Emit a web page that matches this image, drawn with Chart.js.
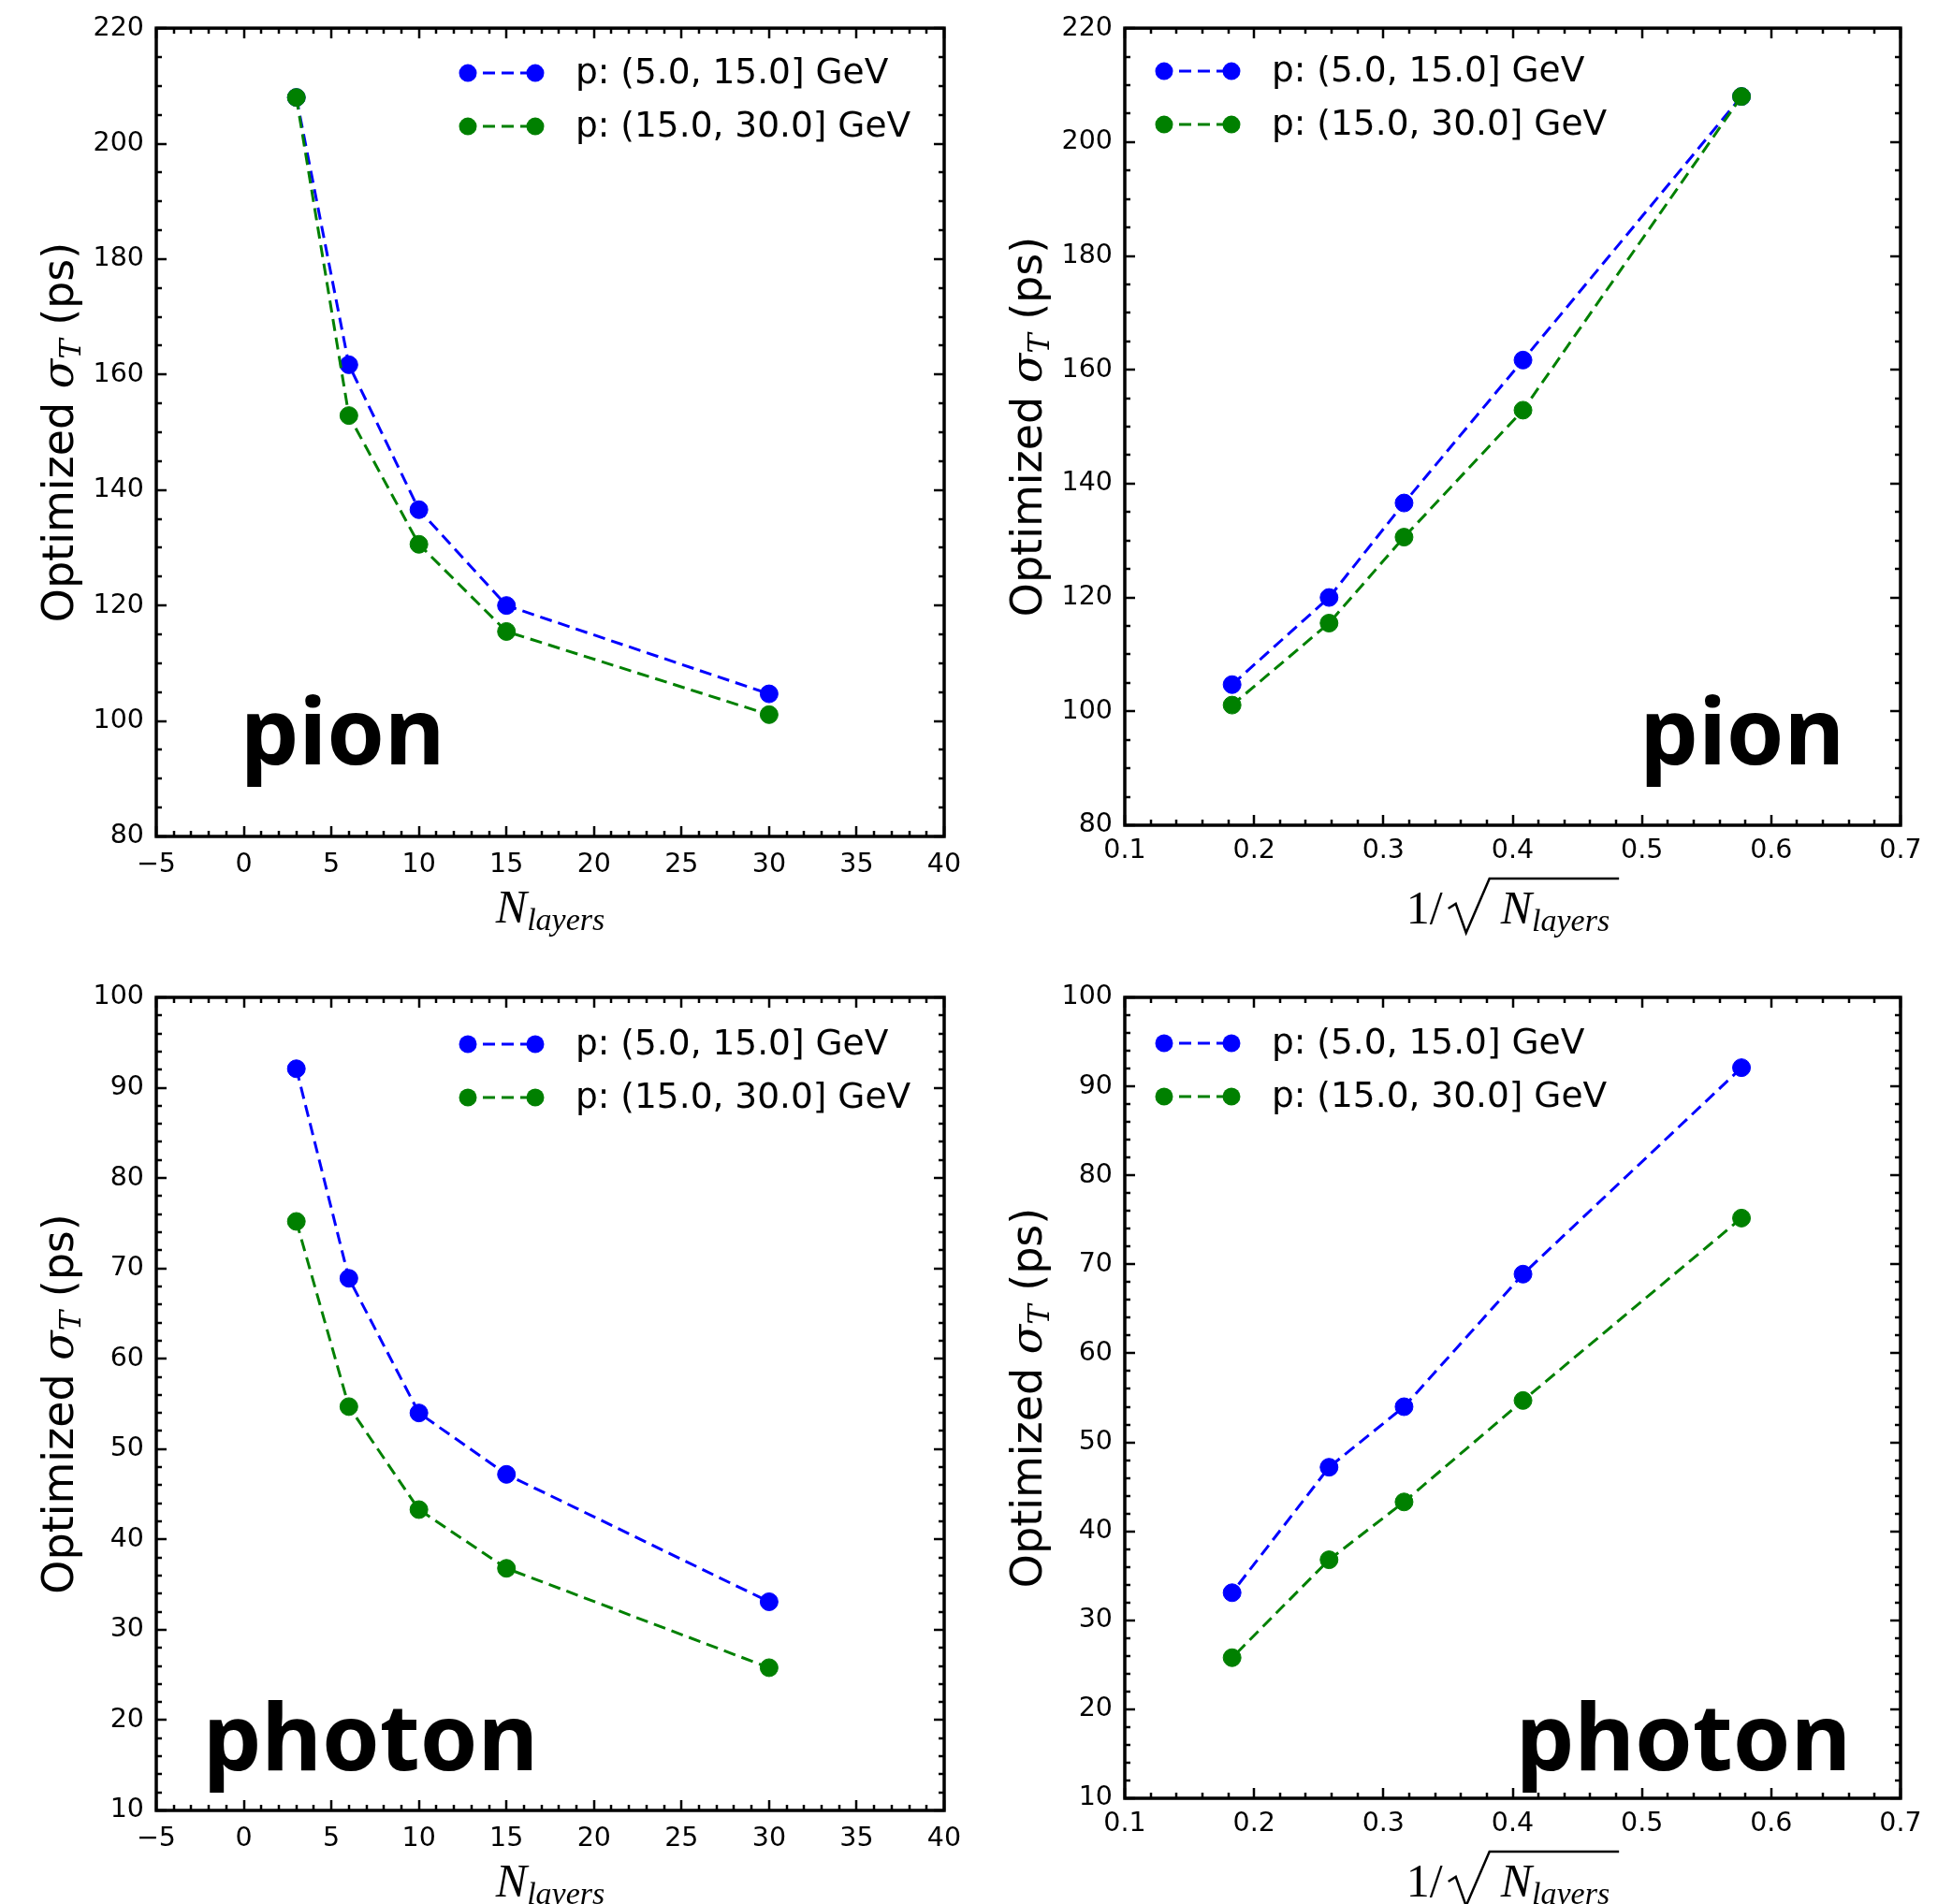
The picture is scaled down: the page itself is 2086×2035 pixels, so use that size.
<!DOCTYPE html>
<html>
<head>
<meta charset="utf-8">
<script src="https://cdn.jsdelivr.net/npm/chart.js@4.4.1/dist/chart.umd.min.js"></script>
<style>
  html, body { margin: 0; padding: 0; background: #fff; }
  #page { position: relative; width: 2086px; height: 2035px; }
  canvas { position: absolute; }
</style>
</head>
<body>
<div id="page">
  <canvas id="c1" width="1043" height="1017" style="left:0;top:0"></canvas>
  <canvas id="c2" width="1043" height="1017" style="left:1043px;top:0"></canvas>
  <canvas id="c3" width="1043" height="1018" style="left:0;top:1017px"></canvas>
  <canvas id="c4" width="1043" height="1018" style="left:1043px;top:1017px"></canvas>
</div>
<script>
// data
const nLayers   = [3, 6, 10, 15, 30];
const invSqrtN  = [0.577, 0.408, 0.316, 0.258, 0.183];
const pionLow    = [208.0, 161.7, 136.6, 120.0, 104.7];
const pionHigh   = [208.0, 152.9, 130.6, 115.5, 101.1];
const photonLow  = [92.1, 68.9, 54.0, 47.2, 33.1];
const photonHigh = [75.2, 54.7, 43.3, 36.8, 25.8];
const seriesNames  = ['p: (5.0, 15.0] GeV', 'p: (15.0, 30.0] GeV'];
const seriesColors = ['#0000ff', '#008000'];

const SANS = '"DejaVu Sans"';
const SERIF = '"Liberation Serif"';

function minusFmt(v) { return v < 0 ? '\u2212' + Math.abs(v) : String(v); }
function oneDec(v) { return v.toFixed(1); }

const panels = [
  { id: 'c1', xs: nLayers, low: pionLow, high: pionHigh,
    x: { min: -5, max: 40, step: 5, minor: 1, fmt: minusFmt },
    y: { min: 80, max: 220, step: 20, minor: 5 },
    box: { l: 167, t: 26, r: 34, b: 123 }, xPad: 13, sqrtTitle: false, legendX: 333, legendY: 48,
    tag: { text: 'pion', x: 257, y: 817, align: 'left' } },
  { id: 'c2', xs: invSqrtN, low: pionLow, high: pionHigh,
    x: { min: 0.1, max: 0.7, step: 0.1, minor: 0.02, fmt: oneDec },
    y: { min: 80, max: 220, step: 20, minor: 5 },
    box: { l: 159, t: 25, r: 55, b: 135 }, xPad: 10, sqrtTitle: true, legendX: 42, legendY: 46,
    tag: { text: 'pion', x: 928, y: 817, align: 'right' } },
  { id: 'c3', xs: nLayers, low: photonLow, high: photonHigh,
    x: { min: -5, max: 40, step: 5, minor: 1, fmt: minusFmt },
    y: { min: 10, max: 100, step: 10, minor: 2 },
    box: { l: 167, t: 49, r: 34, b: 100 }, xPad: 13, sqrtTitle: false, legendX: 333, legendY: 50,
    tag: { text: 'photon', x: 217, y: 875, align: 'left' } },
  { id: 'c4', xs: invSqrtN, low: photonLow, high: photonHigh,
    x: { min: 0.1, max: 0.7, step: 0.1, minor: 0.02, fmt: oneDec },
    y: { min: 10, max: 100, step: 10, minor: 2 },
    box: { l: 159, t: 49, r: 55, b: 113 }, xPad: 10, sqrtTitle: true, legendX: 42, legendY: 49,
    tag: { text: 'photon', x: 935, y: 875, align: 'right' } }
];

// draws a row of text pieces, each {t, f, dy}, starting at x along baseline y
function drawPieces(ctx, pieces, x, y) {
  pieces.forEach(p => {
    ctx.font = p.f;
    ctx.fillText(p.t, x, y + (p.dy || 0));
    x += ctx.measureText(p.t).width;
  });
  return x;
}
function piecesWidth(ctx, pieces) {
  let w = 0;
  pieces.forEach(p => { ctx.font = p.f; w += ctx.measureText(p.t).width; });
  return w;
}

const decor = {
  id: 'decor',
  afterDraw(chart, args, o) {
    const ctx = chart.ctx, a = chart.chartArea;
    const xs = chart.scales.x, ys = chart.scales.y;
    ctx.save();
    ctx.strokeStyle = '#000';
    ctx.fillStyle = '#000';

    // inward ticks on all four sides
    ctx.lineWidth = 2.5;
    const eachTick = (cfg, fn) => {
      const n = Math.round((cfg.max - cfg.min) / cfg.minor);
      const per = Math.round(cfg.step / cfg.minor);
      for (let i = 0; i <= n; i++) fn(cfg.min + i * cfg.minor, i % per === 0);
    };
    ctx.beginPath();
    eachTick(o.x, (v, major) => {
      const px = Math.round(xs.getPixelForValue(v)), len = major ? 11 : 6;
      ctx.moveTo(px, a.bottom); ctx.lineTo(px, a.bottom - len);
      ctx.moveTo(px, a.top); ctx.lineTo(px, a.top + len);
    });
    eachTick(o.y, (v, major) => {
      const py = Math.round(ys.getPixelForValue(v)), len = major ? 11 : 6;
      ctx.moveTo(a.left, py); ctx.lineTo(a.left + len, py);
      ctx.moveTo(a.right, py); ctx.lineTo(a.right - len, py);
    });
    ctx.stroke();

    // frame
    ctx.lineWidth = 3.5;
    ctx.strokeRect(a.left, a.top, a.right - a.left, a.bottom - a.top);

    // legend
    ctx.textBaseline = 'middle';
    chart.data.datasets.slice().sort((p, q) => p.legendIndex - q.legendIndex).forEach((ds, i) => {
      const y = a.top + o.legendY + i * 57;
      const x1 = a.left + o.legendX, x2 = x1 + 72;
      ctx.strokeStyle = ds.borderColor;
      ctx.lineWidth = ds.borderWidth;
      ctx.setLineDash(ds.borderDash);
      ctx.beginPath(); ctx.moveTo(x1 + 16, y); ctx.lineTo(x2, y); ctx.stroke();
      ctx.setLineDash([]);
      ctx.fillStyle = ds.pointBackgroundColor;
      [x1, x2].forEach(x => { ctx.beginPath(); ctx.arc(x, y, ds.pointRadius, 0, Math.PI * 2); ctx.fill(); });
      ctx.fillStyle = '#000';
      ctx.font = '37.5px ' + SANS;
      ctx.textAlign = 'left';
      ctx.fillText(ds.label, x1 + 115, y + 1);
    });

    // y title (rotated)
    ctx.textBaseline = 'alphabetic';
    ctx.textAlign = 'left';
    const yt = [
      { t: 'Optimized ', f: '46px ' + SANS },
      { t: '\u03c3', f: 'italic 46px "DejaVu Serif"' },
      { t: 'T', f: 'italic 32px "DejaVu Serif"', dy: 8 },
      { t: ' (ps)', f: '46px ' + SANS }
    ];
    ctx.save();
    ctx.translate(a.left - 106 + 17, (a.top + a.bottom) / 2);
    ctx.rotate(-Math.PI / 2);
    drawPieces(ctx, yt, -piecesWidth(ctx, yt) / 2, 0);
    ctx.restore();

    // x title
    const nl = [
      { t: 'N', f: 'italic 50px ' + SERIF },
      { t: 'layers', f: 'italic 34px ' + SERIF, dy: 8 }
    ];
    const cx = (a.left + a.right) / 2;
    if (!o.sqrtTitle) {
      drawPieces(ctx, nl, cx - piecesWidth(ctx, nl) / 2, a.bottom + 92);
    } else {
      const by = a.bottom + 105;
      const pre = [{ t: '1/', f: '50px ' + SERIF }];
      const radW = 46, gap = 12;
      const wPre = piecesWidth(ctx, pre), wN = piecesWidth(ctx, nl);
      let x = cx - (wPre + 4 + radW + gap + wN + 10) / 2;
      x = drawPieces(ctx, pre, x, by) + 4;
      const top = by - 48;
      ctx.lineWidth = 2.5;
      ctx.strokeStyle = '#000';
      ctx.beginPath();
      ctx.moveTo(x + 2, by - 16);
      ctx.lineTo(x + 10, by - 21);
      ctx.lineTo(x + 21, by + 10);
      ctx.lineTo(x + radW, top);
      ctx.lineTo(x + radW + gap + wN + 10, top);
      ctx.stroke();
      drawPieces(ctx, nl, x + radW + gap, by);
    }

    // big particle tag
    ctx.font = 'bold 99px "Noto Sans"';
    ctx.textAlign = o.tag.align;
    ctx.fillText(o.tag.text, o.tag.x, o.tag.y);
    ctx.restore();
  }
};

panels.forEach(p => {
  const mk = (ys, i) => ({
    label: seriesNames[i],
    legendIndex: i,
    order: i === 0 ? 1 : 0,
    data: p.xs.map((x, k) => ({ x: x, y: ys[k] })),
    showLine: true,
    borderColor: seriesColors[i],
    backgroundColor: seriesColors[i],
    borderWidth: 3,
    borderDash: [13, 7],
    pointRadius: 9.5,
    pointStyle: 'circle',
    pointBackgroundColor: seriesColors[i],
    pointBorderColor: seriesColors[i],
    pointBorderWidth: 1,
    fill: false,
    tension: 0
  });
  const tickFont = { family: 'DejaVu Sans', size: 28.5 };
  new Chart(document.getElementById(p.id), {
    type: 'scatter',
    data: { datasets: [mk(p.low, 0), mk(p.high, 1)] },
    options: {
      responsive: false,
      animation: false,
      devicePixelRatio: 1,
      layout: { padding: { left: 0, top: p.box.t, right: p.box.r, bottom: 0 } },
      plugins: {
        legend: { display: false },
        tooltip: { enabled: false },
        decor: { x: p.x, y: p.y, sqrtTitle: p.sqrtTitle, legendX: p.legendX, legendY: p.legendY, tag: p.tag }
      },
      scales: {
        x: {
          type: 'linear', min: p.x.min, max: p.x.max,
          grid: { display: false, drawTicks: false },
          border: { display: false },
          ticks: { stepSize: p.x.step, font: tickFont, color: '#000', padding: p.xPad,
                   maxRotation: 0, autoSkip: false, callback: v => p.x.fmt(v) },
          afterFit(s) { s.height = p.box.b; }
        },
        y: {
          type: 'linear', min: p.y.min, max: p.y.max,
          grid: { display: false, drawTicks: false },
          border: { display: false },
          ticks: { stepSize: p.y.step, font: tickFont, color: '#000', padding: 13,
                   autoSkip: false },
          afterFit(s) { s.width = p.box.l; }
        }
      }
    },
    plugins: [decor]
  });
});
</script>
</body>
</html>
